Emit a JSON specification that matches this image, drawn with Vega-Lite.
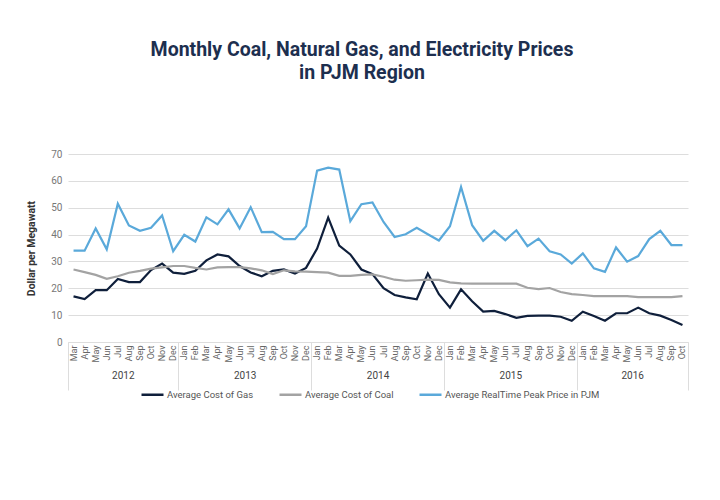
{
  "$schema": "https://vega.github.io/schema/vega-lite/v6.json",
  "autosize": "none",
  "width": 620,
  "height": 188,
  "padding": {"left": 68, "top": 154, "right": 32, "bottom": 158},
  "background": "white",
  "config": {"view": {"stroke": null}, "font": "Roboto"},
  "title": {
    "text": ["Monthly Coal, Natural Gas, and Electricity Prices", "in PJM Region"],
    "font": "Roboto",
    "fontSize": 19.5,
    "fontWeight": "bold",
    "color": "#1d2f4f",
    "lineHeight": 23,
    "anchor": "middle",
    "frame": "group",
    "dx": -16,
    "offset": 66
  },
  "data": {
    "values": [
      {"d": "Mar 2012", "Average Cost of Gas": 17, "Average Cost of Coal": 27, "Average RealTime Peak Price in PJM": 34},
      {"d": "Apr 2012", "Average Cost of Gas": 16, "Average Cost of Coal": 26, "Average RealTime Peak Price in PJM": 34},
      {"d": "May 2012", "Average Cost of Gas": 19.3, "Average Cost of Coal": 25, "Average RealTime Peak Price in PJM": 42.3},
      {"d": "Jun 2012", "Average Cost of Gas": 19.3, "Average Cost of Coal": 23.5, "Average RealTime Peak Price in PJM": 34.5},
      {"d": "Jul 2012", "Average Cost of Gas": 23.5, "Average Cost of Coal": 24.5, "Average RealTime Peak Price in PJM": 51.5},
      {"d": "Aug 2012", "Average Cost of Gas": 22.3, "Average Cost of Coal": 25.8, "Average RealTime Peak Price in PJM": 43.4},
      {"d": "Sep 2012", "Average Cost of Gas": 22.3, "Average Cost of Coal": 26.5, "Average RealTime Peak Price in PJM": 41.4},
      {"d": "Oct 2012", "Average Cost of Gas": 26.8, "Average Cost of Coal": 27.3, "Average RealTime Peak Price in PJM": 42.5},
      {"d": "Nov 2012", "Average Cost of Gas": 29.2, "Average Cost of Coal": 27.8, "Average RealTime Peak Price in PJM": 47.1},
      {"d": "Dec 2012", "Average Cost of Gas": 25.8, "Average Cost of Coal": 28.3, "Average RealTime Peak Price in PJM": 33.8},
      {"d": "Jan 2013", "Average Cost of Gas": 25.4, "Average Cost of Coal": 28.3, "Average RealTime Peak Price in PJM": 39.9},
      {"d": "Feb 2013", "Average Cost of Gas": 26.5, "Average Cost of Coal": 27.6, "Average RealTime Peak Price in PJM": 37.4},
      {"d": "Mar 2013", "Average Cost of Gas": 30.4, "Average Cost of Coal": 27, "Average RealTime Peak Price in PJM": 46.4},
      {"d": "Apr 2013", "Average Cost of Gas": 32.6, "Average Cost of Coal": 27.8, "Average RealTime Peak Price in PJM": 43.8},
      {"d": "May 2013", "Average Cost of Gas": 31.9, "Average Cost of Coal": 27.9, "Average RealTime Peak Price in PJM": 49.4},
      {"d": "Jun 2013", "Average Cost of Gas": 28.3, "Average Cost of Coal": 27.9, "Average RealTime Peak Price in PJM": 42.3},
      {"d": "Jul 2013", "Average Cost of Gas": 25.9, "Average Cost of Coal": 27.4, "Average RealTime Peak Price in PJM": 50.2},
      {"d": "Aug 2013", "Average Cost of Gas": 24.5, "Average Cost of Coal": 26.7, "Average RealTime Peak Price in PJM": 40.9},
      {"d": "Sep 2013", "Average Cost of Gas": 26.5, "Average Cost of Coal": 25.3, "Average RealTime Peak Price in PJM": 41},
      {"d": "Oct 2013", "Average Cost of Gas": 27, "Average Cost of Coal": 26.7, "Average RealTime Peak Price in PJM": 38.3},
      {"d": "Nov 2013", "Average Cost of Gas": 25.5, "Average Cost of Coal": 26.3, "Average RealTime Peak Price in PJM": 38.3},
      {"d": "Dec 2013", "Average Cost of Gas": 27.6, "Average Cost of Coal": 26.2, "Average RealTime Peak Price in PJM": 43.1},
      {"d": "Jan 2014", "Average Cost of Gas": 34.8, "Average Cost of Coal": 26, "Average RealTime Peak Price in PJM": 63.8},
      {"d": "Feb 2014", "Average Cost of Gas": 46.3, "Average Cost of Coal": 25.8, "Average RealTime Peak Price in PJM": 64.9},
      {"d": "Mar 2014", "Average Cost of Gas": 35.9, "Average Cost of Coal": 24.6, "Average RealTime Peak Price in PJM": 64.2},
      {"d": "Apr 2014", "Average Cost of Gas": 32.6, "Average Cost of Coal": 24.6, "Average RealTime Peak Price in PJM": 45},
      {"d": "May 2014", "Average Cost of Gas": 27, "Average Cost of Coal": 25, "Average RealTime Peak Price in PJM": 51.3},
      {"d": "Jun 2014", "Average Cost of Gas": 25.3, "Average Cost of Coal": 25.2, "Average RealTime Peak Price in PJM": 52},
      {"d": "Jul 2014", "Average Cost of Gas": 20, "Average Cost of Coal": 24.3, "Average RealTime Peak Price in PJM": 44.7},
      {"d": "Aug 2014", "Average Cost of Gas": 17.5, "Average Cost of Coal": 23.2, "Average RealTime Peak Price in PJM": 39.1},
      {"d": "Sep 2014", "Average Cost of Gas": 16.6, "Average Cost of Coal": 22.8, "Average RealTime Peak Price in PJM": 40.1},
      {"d": "Oct 2014", "Average Cost of Gas": 15.9, "Average Cost of Coal": 23, "Average RealTime Peak Price in PJM": 42.5},
      {"d": "Nov 2014", "Average Cost of Gas": 25.5, "Average Cost of Coal": 23.2, "Average RealTime Peak Price in PJM": 40.1},
      {"d": "Dec 2014", "Average Cost of Gas": 17.8, "Average Cost of Coal": 23.1, "Average RealTime Peak Price in PJM": 37.8},
      {"d": "Jan 2015", "Average Cost of Gas": 12.8, "Average Cost of Coal": 22.2, "Average RealTime Peak Price in PJM": 43.1},
      {"d": "Feb 2015", "Average Cost of Gas": 19.6, "Average Cost of Coal": 21.8, "Average RealTime Peak Price in PJM": 57.7},
      {"d": "Mar 2015", "Average Cost of Gas": 15.2, "Average Cost of Coal": 21.7, "Average RealTime Peak Price in PJM": 43.5},
      {"d": "Apr 2015", "Average Cost of Gas": 11.3, "Average Cost of Coal": 21.7, "Average RealTime Peak Price in PJM": 37.7},
      {"d": "May 2015", "Average Cost of Gas": 11.6, "Average Cost of Coal": 21.7, "Average RealTime Peak Price in PJM": 41.4},
      {"d": "Jun 2015", "Average Cost of Gas": 10.4, "Average Cost of Coal": 21.7, "Average RealTime Peak Price in PJM": 37.9},
      {"d": "Jul 2015", "Average Cost of Gas": 9, "Average Cost of Coal": 21.7, "Average RealTime Peak Price in PJM": 41.6},
      {"d": "Aug 2015", "Average Cost of Gas": 9.7, "Average Cost of Coal": 20.2, "Average RealTime Peak Price in PJM": 35.7},
      {"d": "Sep 2015", "Average Cost of Gas": 9.8, "Average Cost of Coal": 19.7, "Average RealTime Peak Price in PJM": 38.5},
      {"d": "Oct 2015", "Average Cost of Gas": 9.8, "Average Cost of Coal": 20.1, "Average RealTime Peak Price in PJM": 33.8},
      {"d": "Nov 2015", "Average Cost of Gas": 9.4, "Average Cost of Coal": 18.6, "Average RealTime Peak Price in PJM": 32.6},
      {"d": "Dec 2015", "Average Cost of Gas": 7.9, "Average Cost of Coal": 17.8, "Average RealTime Peak Price in PJM": 29.2},
      {"d": "Jan 2016", "Average Cost of Gas": 11.3, "Average Cost of Coal": 17.5, "Average RealTime Peak Price in PJM": 33},
      {"d": "Feb 2016", "Average Cost of Gas": 9.7, "Average Cost of Coal": 17.1, "Average RealTime Peak Price in PJM": 27.4},
      {"d": "Mar 2016", "Average Cost of Gas": 7.9, "Average Cost of Coal": 17.1, "Average RealTime Peak Price in PJM": 26.1},
      {"d": "Apr 2016", "Average Cost of Gas": 10.7, "Average Cost of Coal": 17.1, "Average RealTime Peak Price in PJM": 35.2},
      {"d": "May 2016", "Average Cost of Gas": 10.7, "Average Cost of Coal": 17.1, "Average RealTime Peak Price in PJM": 29.9},
      {"d": "Jun 2016", "Average Cost of Gas": 12.8, "Average Cost of Coal": 16.7, "Average RealTime Peak Price in PJM": 32},
      {"d": "Jul 2016", "Average Cost of Gas": 10.7, "Average Cost of Coal": 16.7, "Average RealTime Peak Price in PJM": 38.3},
      {"d": "Aug 2016", "Average Cost of Gas": 9.8, "Average Cost of Coal": 16.7, "Average RealTime Peak Price in PJM": 41.4},
      {"d": "Sep 2016", "Average Cost of Gas": 8.2, "Average Cost of Coal": 16.7, "Average RealTime Peak Price in PJM": 36.1},
      {"d": "Oct 2016", "Average Cost of Gas": 6.3, "Average Cost of Coal": 17.1, "Average RealTime Peak Price in PJM": 36.1}
    ]
  },
  "transform": [
    {"fold": ["Average Cost of Gas", "Average Cost of Coal", "Average RealTime Peak Price in PJM"], "as": ["series", "value"]}
  ],
  "encoding": {
    "y": {
      "field": "value",
      "type": "quantitative",
      "scale": {"domain": [0, 70], "nice": false},
      "axis": {
        "title": "Dollar per Megawatt",
        "titleFont": "Roboto",
        "titleFontSize": 10.5,
        "titleFontWeight": "bold",
        "titleColor": "#333333",
        "titlePadding": 14,
        "values": [0, 10, 20, 30, 40, 50, 60, 70],
        "labelFont": "Roboto",
        "labelFontSize": 10,
        "labelColor": "#777777",
        "labelPadding": 6,
        "domain": false,
        "ticks": false,
        "grid": true,
        "gridColor": "#dddddd",
        "gridWidth": 1
      }
    }
  },
  "layer": [
    {
      "mark": {"type": "line", "strokeWidth": 2.2},
      "encoding": {
        "x": {
          "field": "d",
          "type": "ordinal",
          "sort": null,
          "scale": {"type": "band", "paddingInner": 0, "paddingOuter": 0},
          "axis": {
            "orient": "bottom",
            "title": null,
            "labelAngle": -90,
            "labelExpr": "split(datum.label, ' ')[0]",
            "labelFont": "Roboto",
            "labelFontSize": 9,
            "labelColor": "#666666",
            "labelPadding": 3,
            "ticks": false,
            "domain": true,
            "domainColor": "#dddddd",
            "domainWidth": 1,
            "grid": false
          }
        },
        "color": {
          "field": "series",
          "type": "nominal",
          "scale": {
            "domain": ["Average Cost of Gas", "Average Cost of Coal", "Average RealTime Peak Price in PJM"],
            "range": ["#0f1f3b", "#a3a3a3", "#5aa9da"]
          },
          "legend": {
            "title": null,
            "orient": "none",
            "direction": "horizontal",
            "legendX": 72,
            "legendY": 228,
            "symbolType": "stroke",
            "symbolSize": 484,
            "symbolStrokeWidth": 2.5,
            "labelFont": "Roboto",
            "labelFontSize": 9.5,
            "labelColor": "#555555",
            "labelOffset": 2,
            "columnPadding": 20
          }
        }
      }
    },
    {
      "mark": {"type": "point", "opacity": 0},
      "encoding": {
        "x": {
          "field": "d",
          "type": "ordinal",
          "sort": null,
          "axis": {
            "orient": "bottom",
            "title": null,
            "values": ["Jul 2012", "Jun 2013", "Jun 2014", "Jun 2015", "May 2016"],
            "labelExpr": "split(datum.label, ' ')[1]",
            "labelAngle": 0,
            "labelOffset": 5.536,
            "labelFont": "Roboto",
            "labelFontSize": 10,
            "labelColor": "#444444",
            "labelPadding": 28,
            "ticks": false,
            "domain": false,
            "grid": false
          }
        }
      }
    },
    {
      "mark": {"type": "point", "opacity": 0},
      "encoding": {
        "x": {
          "field": "d",
          "type": "ordinal",
          "sort": null,
          "axis": {
            "orient": "bottom",
            "title": null,
            "values": ["Dec 2012", "Dec 2013", "Dec 2014", "Dec 2015", "Oct 2016"],
            "bandPosition": 1,
            "tickExtra": false,
            "labels": false,
            "ticks": true,
            "tickSize": 48,
            "tickColor": "#dddddd",
            "tickWidth": 1,
            "domain": false,
            "grid": false
          }
        }
      }
    },
    {
      "mark": {"type": "point", "opacity": 0},
      "encoding": {
        "x": {
          "field": "d",
          "type": "ordinal",
          "sort": null,
          "axis": {
            "orient": "bottom",
            "title": null,
            "values": ["Mar 2012"],
            "bandPosition": 0,
            "tickExtra": false,
            "labels": false,
            "ticks": true,
            "tickSize": 48,
            "tickColor": "#dddddd",
            "tickWidth": 1,
            "domain": false,
            "grid": false
          }
        }
      }
    }
  ],
  "resolve": {"axis": {"x": "independent"}}
}
